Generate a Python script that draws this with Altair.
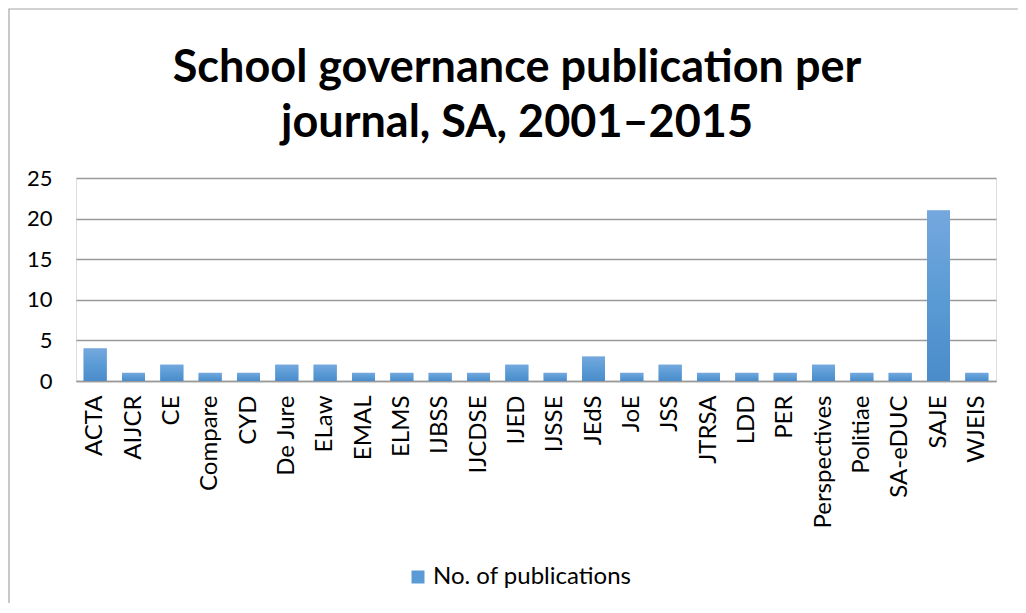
import altair as alt
import pandas as pd

journals = ["ACTA", "AIJCR", "CE", "Compare", "CYD", "De Jure", "ELaw", "EMAL", "ELMS",
            "IJBSS", "IJCDSE", "IJED", "IJSSE", "JEdS", "JoE", "JSS", "JTRSA", "LDD",
            "PER", "Perspectives", "Politiae", "SA-eDUC", "SAJE", "WJEIS"]
publications = [4, 1, 2, 1, 1, 2, 2, 1, 1, 1, 1, 2, 1, 3, 1, 2, 1, 1, 1, 2, 1, 1, 21, 1]
series_name = "No. of publications"

df = pd.DataFrame({"journal": journals, "count": publications, "series": series_name})

FONT = "Lato"

x_enc = alt.X("journal:N", sort=journals, title=None,
              scale=alt.Scale(paddingInner=0.4, paddingOuter=0.2),
              axis=alt.Axis(labelAngle=270, labelAlign="right", labelBaseline="middle",
                            labelFontSize=24, labelFont=FONT, labelColor="#000000",
                            labelPadding=14, ticks=False, domainColor="#9a9a9a",
                            domainWidth=1.5, grid=False, labelOverlap=False))
y_enc = alt.Y("count:Q", title=None,
              scale=alt.Scale(domain=[0, 25], nice=False),
              axis=alt.Axis(values=[0, 5, 10, 15, 20, 25], labelFontSize=22, labelFont=FONT,
                            labelColor="#000000", labelPadding=24, ticks=False, domain=False,
                            gridColor="#9a9a9a", gridWidth=1.4))

base = alt.Chart(df)

legend_bars = base.mark_bar().encode(
    x=x_enc, y=y_enc,
    color=alt.Color("series:N", title=None,
                    scale=alt.Scale(range=["#5b9bd5"]),
                    legend=alt.Legend(orient="none", legendX=330, legendY=387,
                                      symbolType="square", symbolSize=169,
                                      symbolStrokeWidth=0, labelFontSize=24,
                                      labelFont=FONT, labelColor="#000000",
                                      labelOffset=3, labelLimit=0)),
)

gradient = alt.LinearGradient(
    gradient="linear", x1=0, y1=0, x2=0, y2=1,
    stops=[alt.GradientStop(color="#74a8de", offset=0),
           alt.GradientStop(color="#5b9bd5", offset=0.5),
           alt.GradientStop(color="#4a8bca", offset=1)])

grad_bars = base.mark_bar(color=gradient).encode(x=x_enc, y=y_enc)

border = alt.Chart(pd.DataFrame({"a": [0]})).mark_rect(
    fill="transparent", stroke="#a6a6a6", strokeWidth=1.2, clip=False
).encode(x=alt.value(-67), x2=alt.value(1200), y=alt.value(-169), y2=alt.value(700))

chart = alt.layer(legend_bars, grad_bars, border).properties(
    width=920, height=203,
    title=alt.TitleParams(
        text=["School governance publication per", "journal, SA, 2001\u20132015"],
        font=FONT, fontSize=45, fontWeight="bold", color="#000000",
        anchor="middle", frame="group", dx=-19, baseline="bottom",
        lineHeight=55, offset=-183),
    autosize=alt.AutoSizeParams(type="none"),
    padding={"left": 68, "top": 170, "right": 22, "bottom": 222},
).configure_view(stroke=None).configure(background="white")

chart.save("out.html", embed_options={"renderer": "svg", "actions": False})
